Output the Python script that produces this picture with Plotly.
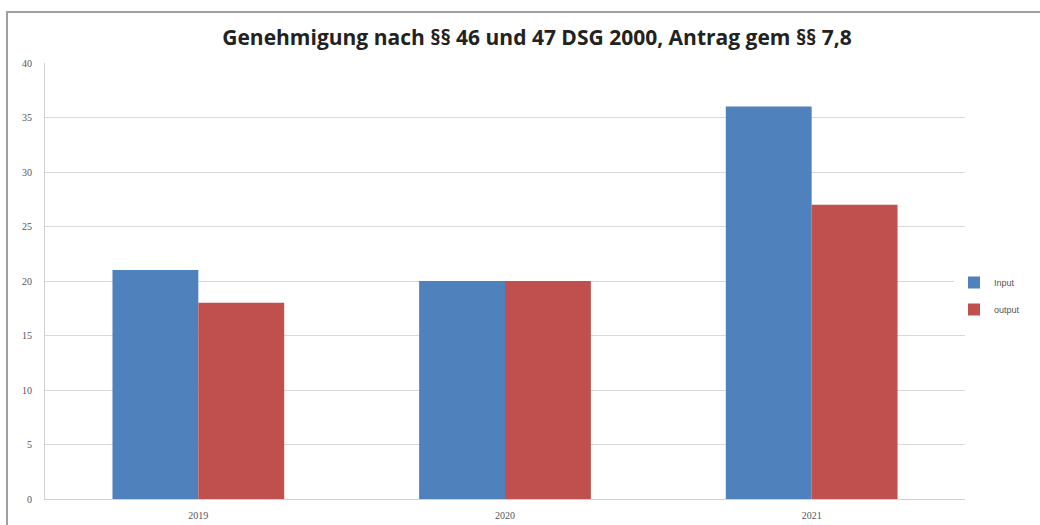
import plotly.graph_objects as go

years = ["2019", "2020", "2021"]
input_vals = [21, 20, 36]
output_vals = [18, 20, 27]
title = "Genehmigung nach §§ 46 und 47 DSG 2000, Antrag gem §§ 7,8"

W, H = 1040, 525
L, R, T, B = 45, 75, 63, 26
pw = W - L - R
ph = H - T - B

fig = go.Figure()
fig.add_trace(go.Bar(name="Input", x=years, y=input_vals, legendgroup="a",
                     marker=dict(color="#4F81BD", line=dict(width=0))))
fig.add_trace(go.Bar(name="output", x=years, y=output_vals, legendgroup="b",
                     marker=dict(color="#C0504D", line=dict(width=0))))

def px_x(v):
    return (v - L) / pw

def px_y(v):
    return (H - B - v) / ph

fig.update_layout(
    width=W, height=H,
    margin=dict(l=L, r=R, t=T, b=B, autoexpand=False),
    paper_bgcolor="white", plot_bgcolor="white",
    barmode="group", bargap=0.44, bargroupgap=0,
    font=dict(family="Liberation Sans, sans-serif", color="#444"),
    title=dict(text=title, xref="container", x=537 / W, xanchor="center", y=1 - 38 / H, yanchor="middle",
               font=dict(size=21, color="#222", family="Open Sans, Liberation Sans, sans-serif", weight="bold")),
    xaxis=dict(showgrid=False, showline=True, linecolor="#d0d0d0", ticks="", automargin=False,
               tickfont=dict(size=10, color="#555", family="Liberation Serif, serif"), ticklabelstandoff=7),
    yaxis=dict(range=[0, 40], dtick=5, showgrid=True, gridcolor="#d9d9d9", gridwidth=1, automargin=False,
               showline=True, linecolor="#d0d0d0", zeroline=False, ticks="",
               tickfont=dict(size=10, color="#555", family="Liberation Serif, serif"), ticklabelstandoff=10),
    legend=dict(x=px_x(954), y=px_y(296), xanchor="left", yanchor="middle",
                font=dict(size=9, color="#555"), tracegroupgap=8, itemwidth=30),
    shapes=[dict(type="rect", xref="paper", yref="paper",
                 x0=px_x(7), x1=px_x(1045), y0=px_y(530), y1=px_y(12),
                 line=dict(color="#a0a0a0", width=2), fillcolor="rgba(0,0,0,0)", layer="below")],
)

fig.write_html("out.html", config={"displayModeBar": False},
               post_script="document.body.style.margin='0';")
